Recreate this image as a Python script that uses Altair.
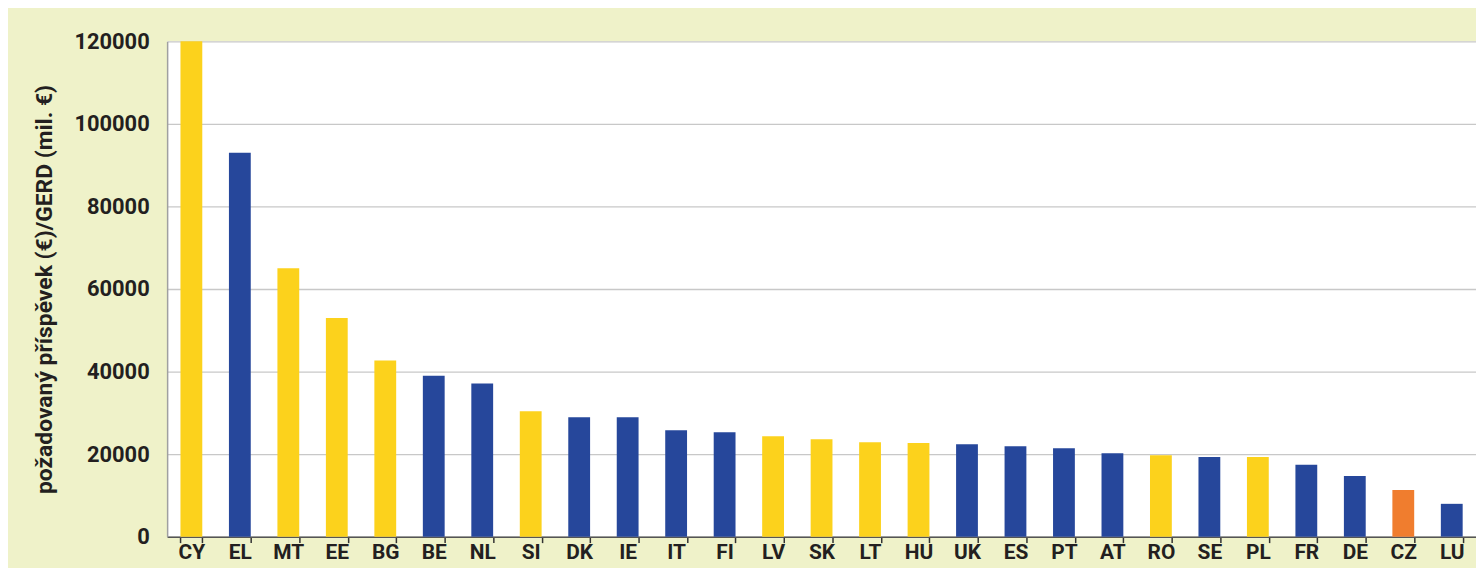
import altair as alt
import pandas as pd

countries = ["CY", "EL", "MT", "EE", "BG", "BE", "NL", "SI", "DK", "IE", "IT", "FI", "LV", "SK",
             "LT", "HU", "UK", "ES", "PT", "AT", "RO", "SE", "PL", "FR", "DE", "CZ", "LU"]
values = [120000, 93000, 65000, 53000, 42700, 39000, 37100, 30400, 28900, 28900, 25800, 25300,
          24300, 23600, 22900, 22700, 22400, 21900, 21400, 20200, 19700, 19300, 19300, 17400,
          14700, 11300, 7950]
groups = ["new", "old", "new", "new", "new", "old", "old", "new", "old", "old", "old", "old",
          "new", "new", "new", "new", "old", "old", "old", "old", "new", "old", "new", "old",
          "old", "cz", "old"]

df = pd.DataFrame({"country": countries, "value": values, "group": groups})

FONT = "Roboto, sans-serif"
BG = "#eff2c9"

bars = alt.Chart(df).mark_bar().encode(
    x=alt.X("country:N", sort=countries,
            scale=alt.Scale(paddingInner=0.55, paddingOuter=0.275),
            axis=alt.Axis(title=None, labelAngle=0, labelFont=FONT, labelFontSize=21,
                          labelFontWeight="bold", labelColor="#231f20",
                          labelBaseline="alphabetic", labelPadding=16,
                          tickBand="extent", tickSize=6, tickColor="#333333",
                          tickWidth=1.5, domainColor="#555555", domainWidth=1.5,
                          grid=False)),
    y=alt.Y("value:Q", scale=alt.Scale(domain=[0, 120000], nice=False),
            axis=alt.Axis(title="požadovaný příspěvek (€)/GERD (mil. €)",
                          values=[0, 20000, 40000, 60000, 80000, 100000, 120000],
                          format="d", labelFont=FONT, labelFontSize=22, labelFontWeight="bold",
                          labelColor="#231f20", labelPadding=18, ticks=False,
                          domainColor="#a0a0a0", domainWidth=1.5,
                          gridColor="#c8c8c8", gridWidth=1.3,
                          titleFont=FONT, titleFontSize=23, titleFontWeight="bold",
                          titleColor="#231f20", titleX=-123, titleY=249,
                          titleAngle=270, titleAlign="center", titleBaseline="middle")),
    color=alt.Color("group:N",
                    scale=alt.Scale(domain=["new", "old", "cz"],
                                    range=["#fcd21c", "#26479b", "#f07d2e"]),
                    legend=None),
)

chart = bars.properties(
    width=1316,
    height=498,
    autosize=alt.AutoSizeParams(type="none"),
    padding={"left": 160, "top": 32, "right": 0, "bottom": 30},
    background=BG,
).configure_view(fill="white", stroke=None)

chart.save("out.html", embed_options={"renderer": "svg", "actions": False})
